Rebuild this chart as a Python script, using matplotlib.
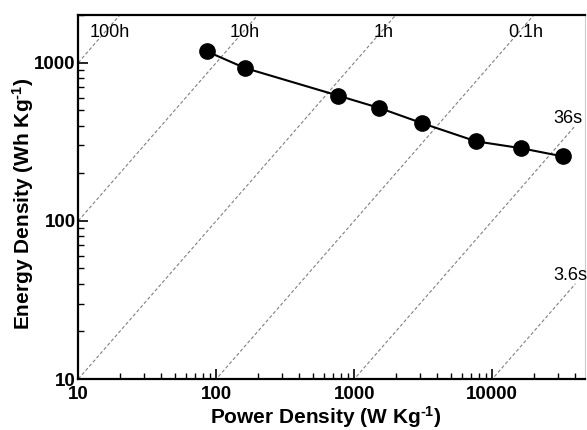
import numpy as np
import matplotlib
matplotlib.use("Agg")
import matplotlib.pyplot as plt

power = [85, 161, 766, 1517, 3078, 7620, 16070, 32700]
energy = [1180, 925, 618, 517, 415, 318, 288, 255]

guide_hours = [100, 10, 1, 0.1, 0.01, 0.001]
guide_labels = ["100h", "10h", "1h", "0.1h", "36s", "3.6s"]
xticks = [10, 100, 1000, 10000]
yticks = [10, 100, 1000]

plt.rcParams['font.family'] = ['Liberation Sans', 'DejaVu Sans']
plt.rcParams['mathtext.fontset'] = 'custom'
plt.rcParams['mathtext.rm'] = 'Liberation Sans:bold'
plt.rcParams['mathtext.bf'] = 'Liberation Sans:bold'
plt.rcParams['mathtext.default'] = 'bf'

W, H = 587, 430
fig = plt.figure(figsize=(W / 100, H / 100), dpi=100)
left_px, right_px, top_px, bot_px = 78.3, 585.0, 15.0, 379.0
ax = fig.add_axes([left_px / W, 1 - bot_px / H, (right_px - left_px) / W, (bot_px - top_px) / H])

ax.set_xscale('log')
ax.set_yscale('log')
xmax = 10 ** (1 + (right_px - left_px) / 138.0)
ax.set_xlim(10, xmax)
ax.set_ylim(10, 2000)

# guide lines E = P * t
pgrid = np.logspace(1, np.log10(40000), 200)
for t in guide_hours:
    ax.plot(pgrid, pgrid * t, linestyle=(0, (3, 2)), color='#808080', lw=0.8, zorder=1)

# label positions (data coords)
label_pos = [(17.0, 1540), (161, 1540), (1629, 1540), (17550, 1540), (35400, 443), (36500, 45)]
for (x, y), s in zip(label_pos, guide_labels):
    ax.text(x, y, s, fontsize=13, ha='center', va='center', color='black', zorder=3)

ax.plot(power, energy, '-', color='black', lw=1.5, marker='o', ms=11,
        markerfacecolor='black', markeredgecolor='black', zorder=4)

ax.set_xticks(xticks)
ax.set_xticklabels([str(v) for v in xticks])
ax.set_yticks(yticks)
ax.set_yticklabels([str(v) for v in yticks])
ax.tick_params(which='major', direction='in', length=7, width=1.2, labelsize=13.5, pad=5)
ax.tick_params(axis='y', which='major', pad=2)
ax.tick_params(which='minor', direction='in', length=4, width=1.0, labelleft=False, labelbottom=False)
for lab in ax.get_xticklabels() + ax.get_yticklabels():
    lab.set_fontweight('bold')

for s in ['left', 'bottom', 'top']:
    ax.spines[s].set_linewidth(1.6)
ax.spines['right'].set_color('#cccccc')
ax.spines['right'].set_linewidth(0.8)

ax.set_xlabel('Power Density (W Kg$^{\\text{-1}}$)', fontsize=15, fontweight='bold', va='top')
ax.set_ylabel('Energy Density (Wh Kg$^{\\text{-1}}$)', fontsize=15, fontweight='bold')
ax.xaxis.set_label_coords(0.488, -0.068)
ax.yaxis.set_label_coords(-0.084, 0.482)

fig.savefig('out.png', dpi=100)
